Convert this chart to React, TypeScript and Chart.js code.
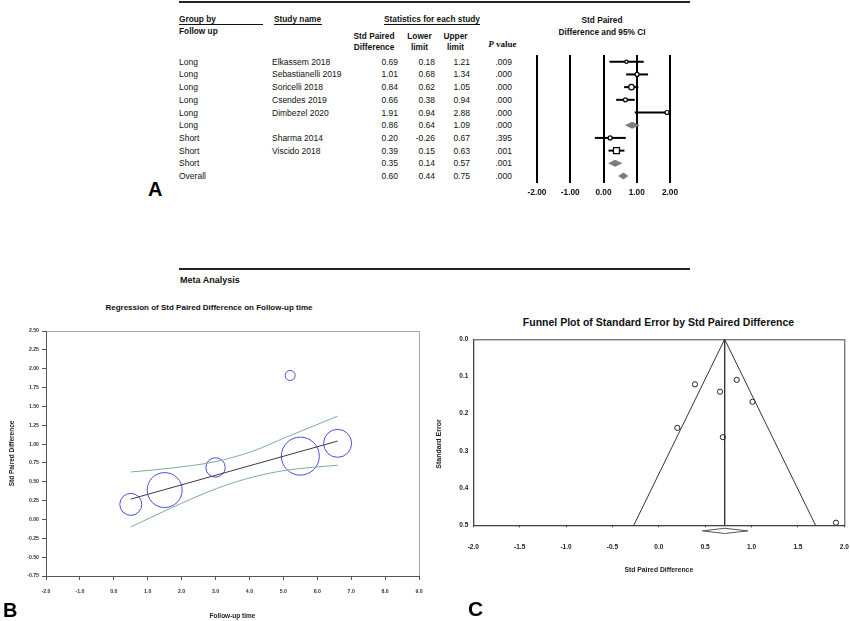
import React, { useEffect, useRef } from "react";
import { Chart, registerables } from "chart.js";

Chart.register(...registerables);

// ---------------- Panel A: forest plot data ----------------
const groups = ["Long", "Long", "Long", "Long", "Long", "Long", "Short", "Short", "Short", "Overall"];
const studyNames = [
  "Elkassem 2018",
  "Sebastianelli 2019",
  "Soricelli 2018",
  "Csendes 2019",
  "Dimbezel 2020",
  "",
  "Sharma 2014",
  "Viscido 2018",
  "",
  "",
];
const stdPairedDiff = [0.69, 1.01, 0.84, 0.66, 1.91, 0.86, 0.2, 0.39, 0.35, 0.6];
const lowerLimits = [0.18, 0.68, 0.62, 0.38, 0.94, 0.64, -0.26, 0.15, 0.14, 0.44];
const upperLimits = [1.21, 1.34, 1.05, 0.94, 2.88, 1.09, 0.67, 0.63, 0.57, 0.75];
const pValues = [".009", ".000", ".000", ".000", ".000", ".000", ".395", ".001", ".001", ".000"];
const forestTicks = [-2, -1, 0, 1, 2];

// ---------------- Panel B: meta-regression data ----------------
const followUpTime = [0.5, 1.5, 3.0, 5.2, 5.5, 6.6];
const regEffect = [0.2, 0.39, 0.69, 1.91, 0.84, 1.01];
const regWeight = [11, 17.5, 9.7, 5, 19, 14];
const regLineX = [0.5, 6.6];
const regLineY = [0.27, 1.04];
const ciX = [0.5, 1.66, 3.03, 4.12, 5.1, 6.6];
const ciUpper = [0.63, 0.68, 0.77, 0.91, 1.095, 1.37];
const ciLower = [-0.1, 0.146, 0.41, 0.565, 0.654, 0.72];
const regXTicks = { min: -2, max: 9, step: 1 };
const regYTicks = { min: -0.75, max: 2.5, step: 0.25 };

// ---------------- Panel C: funnel plot data ----------------
const funnelEffect = [0.69, 1.01, 0.84, 0.66, 1.91, 0.2, 0.39];
const funnelSE = [0.263, 0.168, 0.109, 0.141, 0.493, 0.238, 0.121];
const pooledEffect = 0.71;
const funnelMaxSE = 0.5;
const funnelEdges = [-0.27, 1.69];
const pooledCI = [0.47, 0.96];
const pooledDiamondSE = [0.508, 0.515, 0.522];

const SANS = "'Liberation Sans', Arial, sans-serif";
const SERIF = "'Liberation Serif', 'Times New Roman', serif";

Chart.defaults.font.family = SANS;

type Align = "left" | "right" | "center";
function Txt(props: {
  x: number;
  y: number;
  children: React.ReactNode;
  size?: number;
  bold?: boolean;
  align?: Align;
  family?: string;
  color?: string;
  italic?: boolean;
  rotate?: number;
}) {
  const { x, y, children, size = 8.5, bold = false, align = "left", family = SANS, color = "#111", italic = false, rotate = 0 } = props;
  const tx = align === "left" ? "0" : align === "right" ? "-100%" : "-50%";
  return (
    <div
      style={{
        position: "absolute",
        left: x,
        top: y,
        transform: `translate(${tx},-50%)` + (rotate ? ` rotate(${rotate}deg)` : ""),
        fontSize: size,
        lineHeight: 1,
        fontWeight: bold ? 700 : 400,
        fontStyle: italic ? "italic" : "normal",
        fontFamily: family,
        color,
        whiteSpace: "nowrap",
      }}
    >
      {children}
    </div>
  );
}

function HLine(props: { x: number; y: number; w: number; h?: number; color?: string }) {
  const { x, y, w, h = 1, color = "#111" } = props;
  return <div style={{ position: "absolute", left: x, top: y, width: w, height: h, background: color }} />;
}

const rowY = (i: number) => 61.7 + i * 12.7;

// fix an axis box size exactly and drop label-overflow padding
const fixH = (h: number) => (s: any) => {
  s.height = h;
  s.paddingLeft = 0;
  s.paddingRight = 0;
};
const fixW = (w: number) => (s: any) => {
  s.width = w;
  s.paddingTop = 0;
  s.paddingBottom = 0;
};

function ForestChart() {
  const ref = useRef<HTMLCanvasElement>(null);
  useEffect(() => {
    const radii = [1.6, 2, 2.7, 2, 2, 0, 2, 4.2, 0, 0];
    const studyIdx = stdPairedDiff.map((_, i) => i).filter((i) => studyNames[i] !== "");
    const forestMarks = {
      id: "forestMarks",
      beforeDatasetsDraw(chart: any) {
        const { ctx, chartArea, scales } = chart;
        const x = scales.x;
        const y = scales.y;
        ctx.save();
        ctx.beginPath();
        ctx.rect(chartArea.left, chartArea.top - 5, chartArea.right - chartArea.left + 1, chartArea.bottom - chartArea.top + 10);
        ctx.clip();
        stdPairedDiff.forEach((est, i) => {
          const py = y.getPixelForValue(i);
          const pl = x.getPixelForValue(lowerLimits[i]);
          const pr = x.getPixelForValue(upperLimits[i]);
          const pm = x.getPixelForValue(est);
          if (studyNames[i] !== "") {
            ctx.strokeStyle = "#000";
            ctx.lineWidth = 2;
            ctx.beginPath();
            ctx.moveTo(pl, py);
            ctx.lineTo(pr, py);
            ctx.stroke();
          } else {
            const h = 3.5;
            ctx.fillStyle = "#7c7c7c";
            ctx.beginPath();
            ctx.moveTo(pl, py);
            ctx.lineTo(pm, py - h);
            ctx.lineTo(pr, py);
            ctx.lineTo(pm, py + h);
            ctx.closePath();
            ctx.fill();
          }
        });
        ctx.restore();
      },
    };
    const chart = new Chart(ref.current as HTMLCanvasElement, {
      type: "scatter",
      data: {
        datasets: [
          {
            data: studyIdx.map((i) => ({ x: stdPairedDiff[i], y: i })),
            pointStyle: studyIdx.map((i) => (studyNames[i] === "Viscido 2018" ? "rect" : "circle")) as any,
            pointRadius: studyIdx.map((i) => radii[i]),
            backgroundColor: "#fff",
            borderColor: "#000",
            borderWidth: 1.2,
            clip: false as any,
          },
        ],
      },
      options: {
        animation: false,
        responsive: false,
        maintainAspectRatio: false,
        events: [],
        layout: { autoPadding: false, padding: { left: 37, right: 20, top: 10, bottom: 0 } },
        plugins: { legend: { display: false }, tooltip: { enabled: false } },
        scales: {
          x: {
            type: "linear",
            min: forestTicks[0],
            max: forestTicks[forestTicks.length - 1],
            afterBuildTicks: (s: any) => {
              s.ticks = forestTicks.map((v) => ({ value: v }));
            },
            ticks: {
              callback: (v: any) => Number(v).toFixed(2),
              font: { size: 8.3, weight: "bold" },
              color: "#111",
              padding: 5,
            },
            grid: { color: "#000", lineWidth: 2, drawTicks: false },
            border: { display: false },
            afterFit: fixH(22),
          },
          y: { type: "linear", display: false, min: -0.53, max: 9.55, reverse: true },
        },
      } as any,
      plugins: [forestMarks],
    });
    return () => chart.destroy();
  }, []);
  return <canvas ref={ref} width={190} height={160} style={{ position: "absolute", left: 500, top: 45, width: 190, height: 160 }} />;
}

function RegressionChart() {
  const ref = useRef<HTMLCanvasElement>(null);
  useEffect(() => {
    const frame = {
      id: "regFrame",
      beforeDraw(chart: any) {
        const { ctx, chartArea } = chart;
        ctx.save();
        ctx.strokeStyle = "#a8a8a8";
        ctx.lineWidth = 1;
        ctx.strokeRect(chartArea.left + 0.5, chartArea.top + 0.5, chartArea.right - chartArea.left, chartArea.bottom - chartArea.top);
        ctx.restore();
      },
    };
    const ciColor = "#7eaaa0";
    const chart = new Chart(ref.current as HTMLCanvasElement, {
      type: "bubble",
      data: {
        datasets: [
          {
            type: "line",
            data: ciX.map((x, i) => ({ x, y: ciUpper[i] })),
            borderColor: ciColor,
            borderWidth: 1,
            pointRadius: 0,
            cubicInterpolationMode: "monotone",
            fill: false,
          },
          {
            type: "line",
            data: ciX.map((x, i) => ({ x, y: ciLower[i] })),
            borderColor: ciColor,
            borderWidth: 1,
            pointRadius: 0,
            cubicInterpolationMode: "monotone",
            fill: false,
          },
          {
            type: "line",
            data: regLineX.map((x, i) => ({ x, y: regLineY[i] })),
            borderColor: "#3a3a3a",
            borderWidth: 1,
            pointRadius: 0,
            fill: false,
          },
          {
            type: "bubble",
            data: followUpTime.map((x, i) => ({ x, y: regEffect[i], r: regWeight[i] })),
            backgroundColor: "rgba(0,0,0,0)",
            borderColor: "#4c4cdc",
            borderWidth: 1,
            clip: false,
          },
        ] as any,
      },
      options: {
        animation: false,
        responsive: false,
        maintainAspectRatio: false,
        events: [],
        layout: { autoPadding: false, padding: { left: 0, right: 6, top: 6, bottom: 0 } },
        plugins: { legend: { display: false }, tooltip: { enabled: false } },
        scales: {
          x: {
            type: "linear",
            min: regXTicks.min,
            max: regXTicks.max,
            ticks: {
              stepSize: regXTicks.step,
              callback: (v: any) => Number(v).toFixed(1),
              font: { size: 5.2, weight: "bold" },
              color: "#333",
              padding: 8,
              maxRotation: 0,
              autoSkip: false,
            },
            grid: { drawOnChartArea: false, drawTicks: true, tickLength: 4, color: "#555" },
            border: { display: true, color: "#555", width: 1 },
            title: {
              display: true,
              text: "Follow-up time",
              font: { size: 6.5, weight: "bold" },
              color: "#222",
              padding: { top: 0, bottom: 1.2 },
            },
            afterFit: fixH(45),
          },
          y: {
            type: "linear",
            min: regYTicks.min,
            max: regYTicks.max,
            ticks: {
              stepSize: regYTicks.step,
              callback: (v: any) => Number(v).toFixed(2),
              font: { size: 5.2, weight: "bold" },
              color: "#333",
              padding: 3,
              autoSkip: false,
            },
            grid: { drawOnChartArea: false, drawTicks: true, tickLength: 4, color: "#555" },
            border: { display: true, color: "#555", width: 1 },
            title: {
              display: true,
              text: "Std Paired Difference",
              font: { size: 6.5, weight: "bold" },
              color: "#222",
              padding: { top: 8, bottom: 0 },
            },
            afterFit: fixW(46),
          },
        },
      } as any,
      plugins: [frame],
    });
    return () => chart.destroy();
  }, []);
  return <canvas ref={ref} width={425} height={296} style={{ position: "absolute", left: 0, top: 325, width: 425, height: 296 }} />;
}

function FunnelChart() {
  const ref = useRef<HTMLCanvasElement>(null);
  useEffect(() => {
    const frame = {
      id: "funnelFrame",
      beforeDraw(chart: any) {
        const { ctx, chartArea } = chart;
        ctx.save();
        ctx.strokeStyle = "#444";
        ctx.lineWidth = 1;
        ctx.strokeRect(chartArea.left + 0.5, chartArea.top + 0.5, chartArea.right - chartArea.left, chartArea.bottom - chartArea.top);
        ctx.restore();
      },
    };
    const [lo, hi] = pooledCI;
    const chart = new Chart(ref.current as HTMLCanvasElement, {
      type: "scatter",
      data: {
        datasets: [
          {
            type: "line",
            data: [
              { x: funnelEdges[0], y: funnelMaxSE },
              { x: pooledEffect, y: 0 },
              { x: funnelEdges[1], y: funnelMaxSE },
            ],
            borderColor: "#333",
            borderWidth: 1,
            pointRadius: 0,
            fill: false,
          },
          {
            type: "line",
            data: [
              { x: pooledEffect, y: 0 },
              { x: pooledEffect, y: funnelMaxSE },
            ],
            borderColor: "#333",
            borderWidth: 1,
            pointRadius: 0,
            fill: false,
          },
          {
            type: "line",
            data: [
              { x: lo, y: pooledDiamondSE[1] },
              { x: pooledEffect, y: pooledDiamondSE[0] },
              { x: hi, y: pooledDiamondSE[1] },
              { x: pooledEffect, y: pooledDiamondSE[2] },
              { x: lo, y: pooledDiamondSE[1] },
            ],
            borderColor: "#555",
            borderWidth: 1,
            pointRadius: 0,
            fill: false,
            clip: false,
          },
          {
            type: "scatter",
            data: funnelEffect.map((x, i) => ({ x, y: funnelSE[i] })),
            pointRadius: 2.6,
            pointStyle: "circle",
            backgroundColor: "#fff",
            borderColor: "#222",
            borderWidth: 1,
            clip: false,
          },
        ] as any,
      },
      options: {
        animation: false,
        responsive: false,
        maintainAspectRatio: false,
        events: [],
        layout: { autoPadding: false, padding: { left: 0, right: 5.7, top: 4.3, bottom: 0 } },
        plugins: { legend: { display: false }, tooltip: { enabled: false } },
        scales: {
          x: {
            type: "linear",
            min: -2,
            max: 2,
            ticks: {
              stepSize: 0.5,
              callback: (v: any) => Number(v).toFixed(1),
              font: { size: 6.5, weight: "bold" },
              color: "#222",
              padding: 16,
              maxRotation: 0,
              autoSkip: false,
            },
            grid: { drawOnChartArea: false, drawTicks: true, tickLength: 2, color: "#333" },
            border: { display: true, color: "#444", width: 1 },
            title: {
              display: true,
              text: "Std Paired Difference",
              font: { size: 6.8, weight: "bold" },
              color: "#222",
              padding: { top: 0, bottom: 5.9 },
            },
            afterFit: fixH(54.7),
          },
          y: {
            type: "linear",
            min: 0,
            max: funnelMaxSE,
            reverse: true,
            ticks: {
              stepSize: 0.1,
              callback: (v: any) => Number(v).toFixed(1),
              font: { size: 6.5, weight: "bold" },
              color: "#222",
              padding: 5,
              autoSkip: false,
            },
            grid: { drawOnChartArea: false, drawTicks: false },
            border: { display: true, color: "#444", width: 1 },
            afterFit: fixW(43.3),
          },
        },
      } as any,
      plugins: [frame],
    });
    return () => chart.destroy();
  }, []);
  return <canvas ref={ref} width={420} height={245} style={{ position: "absolute", left: 430, top: 335, width: 420, height: 245 }} />;
}

export default function App() {
  const hdr = 8.3;
  const body = 8.5;
  return (
    <div
      style={{
        position: "absolute",
        left: 0,
        top: 0,
        width: 850,
        height: 621,
        background: "#fff",
        overflow: "hidden",
        fontFamily: SANS,
      }}
    >
      {/* Panel A: table */}
      <HLine x={179} y={1} w={511} h={2} color="#222" />
      <Txt x={179} y={19} size={hdr} bold>Group by</Txt>
      <HLine x={179} y={24} w={84} />
      <Txt x={179} y={30.5} size={hdr} bold>Follow up</Txt>
      <Txt x={274} y={19} size={hdr} bold>Study name</Txt>
      <HLine x={274} y={24} w={48} />
      <Txt x={384} y={19} size={hdr} bold>Statistics for each study</Txt>
      <HLine x={384} y={24} w={96} />
      <Txt x={374} y={36} size={hdr} bold align="center">Std Paired</Txt>
      <Txt x={374} y={46.5} size={hdr} bold align="center">Difference</Txt>
      <Txt x={419.5} y={36} size={hdr} bold align="center">Lower</Txt>
      <Txt x={419.5} y={46.5} size={hdr} bold align="center">limit</Txt>
      <Txt x={455.5} y={36} size={hdr} bold align="center">Upper</Txt>
      <Txt x={455.5} y={46.5} size={hdr} bold align="center">limit</Txt>
      <Txt x={502.5} y={44} size={9} bold align="center" family={SERIF}>
        <i>P</i> value
      </Txt>
      <Txt x={602} y={19.7} size={hdr} bold align="center">Std Paired</Txt>
      <Txt x={602} y={32.3} size={hdr} bold align="center">Difference and 95% CI</Txt>
      {groups.map((g, i) => (
        <React.Fragment key={i}>
          <Txt x={179} y={rowY(i)} size={body}>{g}</Txt>
          <Txt x={272} y={rowY(i)} size={body}>{studyNames[i]}</Txt>
          <Txt x={398} y={rowY(i)} size={body} align="right">{stdPairedDiff[i].toFixed(2)}</Txt>
          <Txt x={435} y={rowY(i)} size={body} align="right">{lowerLimits[i].toFixed(2)}</Txt>
          <Txt x={470} y={rowY(i)} size={body} align="right">{upperLimits[i].toFixed(2)}</Txt>
          <Txt x={512} y={rowY(i)} size={body} align="right">{pValues[i]}</Txt>
        </React.Fragment>
      ))}
      <ForestChart />
      <Txt x={148} y={188.5} size={20} bold color="#000">A</Txt>

      {/* Panel B */}
      <HLine x={179} y={268} w={511} h={2} color="#222" />
      <Txt x={180} y={280} size={9} bold>Meta Analysis</Txt>
      <Txt x={209} y={307.7} size={8} bold align="center">Regression of Std Paired Difference on Follow-up time</Txt>
      <RegressionChart />
      <Txt x={3} y={610} size={20} bold color="#000">B</Txt>

      {/* Panel C */}
      <Txt x={658.5} y={321.7} size={10.5} bold align="center">Funnel Plot of Standard Error by Std Paired Difference</Txt>
      <FunnelChart />
      <Txt x={438} y={444} size={7} bold align="center" rotate={-90} color="#222">Standard Error</Txt>
      <Txt x={468} y={608} size={21} bold color="#000">C</Txt>
    </div>
  );
}
